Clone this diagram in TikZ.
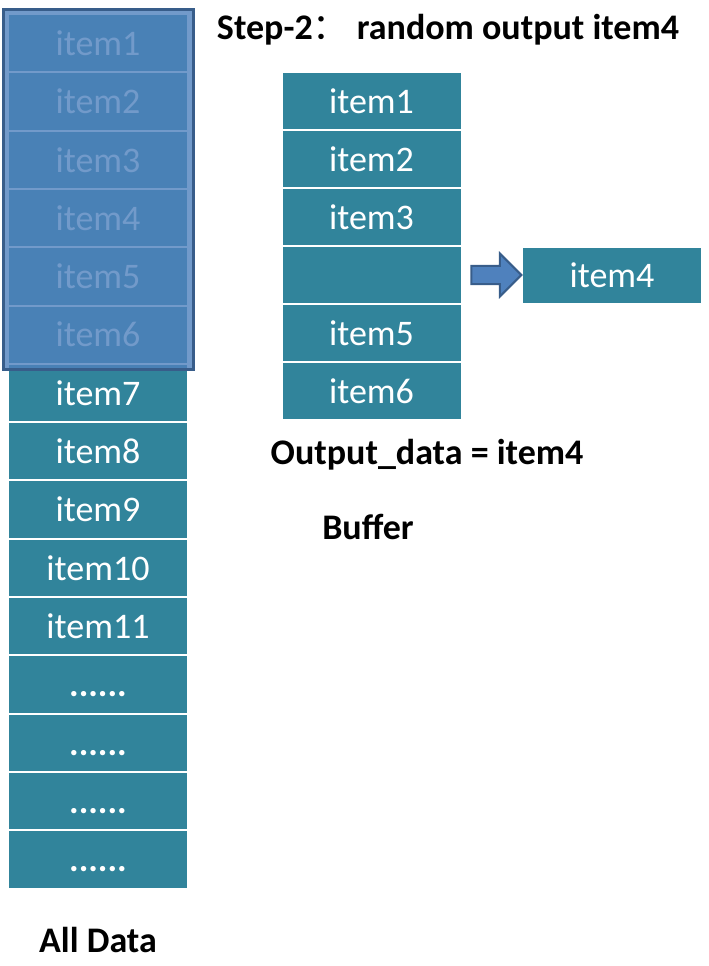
\documentclass[tikz,border=0pt]{standalone}
\usepackage{fontspec}
\setmainfont{Carlito}
\newfontfamily\cjk{Noto Sans CJK SC}
\usetikzlibrary{positioning,fit,calc,shapes.arrows}
\definecolor{cellTeal}{HTML}{31849B}
\definecolor{hlBlue}{HTML}{4F81BD}
\definecolor{hlEdge}{HTML}{385D8A}
\tikzset{
  datacell/.style={
    rectangle, draw=white, line width=2pt, fill=cellTeal,
    text=white, font=\fontsize{36}{42}\selectfont,
    minimum width=180pt, minimum height=58.3pt, inner sep=0pt, outer sep=0pt
  },
  bufcell/.style={datacell, minimum height=58pt},
  pickmask/.style={
    rectangle, draw=hlEdge, line width=3pt, fill=hlBlue, fill opacity=0.8,
    inner sep=5pt
  },
  movearrow/.style={
    single arrow, draw=hlEdge, line width=2pt, fill=hlBlue,
    minimum height=50pt, minimum width=43pt, inner sep=8pt,
    single arrow head extend=12pt
  },
  caption/.style={font=\bfseries\fontsize{36}{42}\selectfont, text=black, inner sep=0pt}
}
\newcommand{\moredots}{\vphantom{item}\textbf{......}}

\begin{document}
\begin{tikzpicture}[x=1pt,y=-1pt]
\useasboundingbox (0,0) rectangle (709,966);

% All data column
\node[datacell] (a1) at (98,43.15) {item1};
\node[datacell, below=0pt of a1] (a2) {item2};
\node[datacell, below=0pt of a2] (a3) {item3};
\node[datacell, below=0pt of a3] (a4) {item4};
\node[datacell, below=0pt of a4] (a5) {item5};
\node[datacell, below=0pt of a5] (a6) {item6};
\node[datacell, below=0pt of a6] (a7) {item7};
\node[datacell, below=0pt of a7] (a8) {item8};
\node[datacell, below=0pt of a8] (a9) {item9};
\node[datacell, below=0pt of a9] (a10) {item10};
\node[datacell, below=0pt of a10] (a11) {item11};
\node[datacell, below=0pt of a11] (a12) {\moredots};
\node[datacell, below=0pt of a12] (a13) {\moredots};
\node[datacell, below=0pt of a13] (a14) {\moredots};
\node[datacell, below=0pt of a14] (a15) {\moredots};

% Mask over the items loaded into the buffer
\node[pickmask, fit=(a1)(a6), yshift=-1pt] (mask) {};

% Buffer column
\node[bufcell] (b1) at (371.5,101) {item1};
\node[bufcell, below=0pt of b1] (b2) {item2};
\node[bufcell, below=0pt of b2] (b3) {item3};
\node[bufcell, below=0pt of b3] (b4) {};
\node[bufcell, below=0pt of b4] (b5) {item5};
\node[bufcell, below=0pt of b5] (b6) {item6};

% Output item
\node[bufcell, minimum height=57pt] (out) at (612,275) {item4};
\node[movearrow] (arr) at ($(b4.east)!0.5!(out.west)$) {};

% Captions
\node[caption] (title) at (448,30) {Step-2{\cjk\mdseries ：} random output item4};
\node[caption] (outdata) at (427,455) {Output\_data = item4};
\node[caption] (buflabel) at (368,527) {Buffer};
\node[caption] (alllabel) at (98,940) {All Data};

\end{tikzpicture}
\end{document}
